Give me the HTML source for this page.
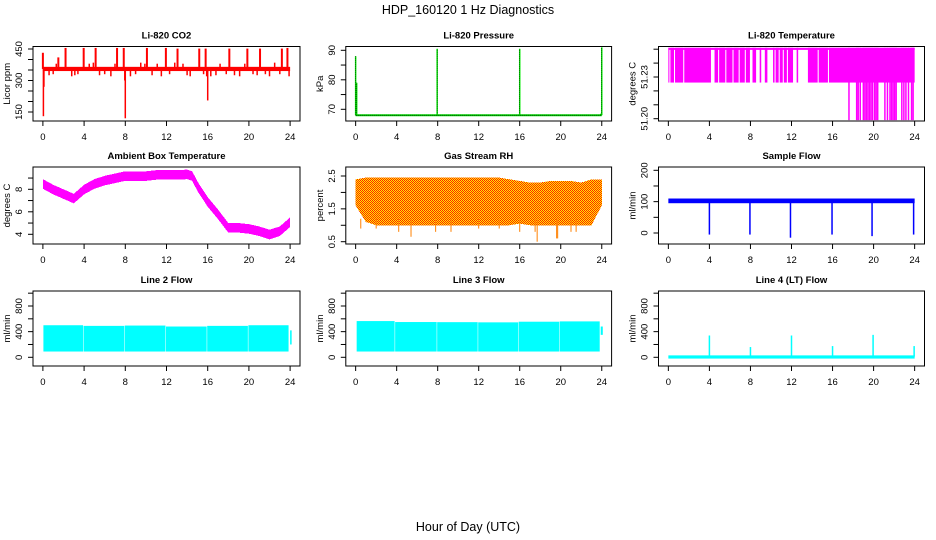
<!DOCTYPE html>
<html><head><meta charset="utf-8"><style>
body{margin:0;background:#fff}
svg{display:block;font-family:"Liberation Sans",Arial,sans-serif}
.t{font-size:9.5px;font-weight:bold}
.tl{font-size:9.5px}
</style></head><body>
<svg id="c" width="936" height="540" viewBox="0 0 936 540">
<defs><pattern id="rhp" width="2" height="2" patternUnits="userSpaceOnUse" shape-rendering="crispEdges"><rect width="2" height="2" fill="#ffee00"/><rect width="1" height="1" fill="#ff2000"/><rect x="1" y="1" width="1" height="1" fill="#ff2000"/></pattern></defs>
<text x="468" y="14" text-anchor="middle" font-size="12.5">HDP_160120  1 Hz Diagnostics</text>
<text x="468" y="531" text-anchor="middle" font-size="12.5">Hour of Day (UTC)</text>
</svg>
<script>
const xTicks=[0,4,8,12,16,20,24];
// CO2
const co2Base=[345,365];
const co2SpikeH=[0.0,1.5,2.2,3.96,5.12,7.2,7.85,10.1,11.94,13.07,15.18,15.8,18.1,19.85,21.08,23.2,23.74];
const co2SpikeV=[432,410,455,455,455,455,455,455,455,452,452,452,452,452,452,452,455];
const co2DownH=[0.05,0.1,7.95,8.0,16.0,15.9,23.9];
const co2DownV=[130,270,300,120,205,320,320];
const co2SmallH=[0.6,1.0,1.3,2.8,3.1,3.4,4.5,4.9,5.5,6.0,6.6,7.0,8.5,9.0,9.5,9.9,10.6,11.1,11.5,12.3,12.8,13.6,14.0,14.3,15.6,16.3,16.8,17.2,17.8,18.6,19.1,19.6,20.4,20.8,21.6,22.0,22.5,23.0];
const co2SmallV=[325,330,380,320,325,330,380,385,325,330,320,380,320,330,385,380,325,380,320,330,385,380,325,320,330,320,325,380,330,325,320,380,330,325,330,320,385,330];
// Pressure
const presBase=68;
const presSpikeH=[0.0,0.1,7.95,16.0,23.9,24.0];
const presSpikeV=[88,79,90.5,90.5,68.5,91];
// Li-820 temperature
const ltTop=51.251,ltMid=51.226,ltBot=51.199;
const ltFill=[[0,0.1],[0.2,0.55],[0.65,1.45],[1.55,4.15],[4.5,4.85],[4.95,5.55],[5.65,6.25],[6.35,6.85],[6.95,7.45],[7.55,7.95],[8.2,8.55],[8.9,9.05],[9.4,9.65],[10.2,10.35],[10.45,10.75],[10.85,11.15],[11.25,11.55],[11.65,12.15],[12.5,12.65],[13.6,14.55],[14.65,15.55],[15.65,24]];
const ltDrops=[17.6,18.35,18.5,18.7,19.0,19.15,19.3,19.45,19.6,19.75,19.9,20.1,20.25,20.4,21.1,21.35,21.6,21.75,21.9,22.05,22.2,22.75,22.95,23.15,23.4,23.7,23.85];
// Ambient
const ambH=[0,1,2,3,4,5,6,7,8,9,10,11,12,13,14,14.5,15,16,17,18,19,20,21,22,23,24];
const ambV=[8.5,8.0,7.6,7.2,8.0,8.5,8.8,9.0,9.2,9.2,9.2,9.3,9.3,9.3,9.35,9.2,8.3,6.9,5.8,4.6,4.6,4.5,4.3,4.0,4.3,5.1];
// RH
const rhH=[0,1,2,3,4,5,6,7,8,9,10,11,12,13,14,15,16,17,18,19,20,21,22,23,24];
const rhUp=[2.4,2.45,2.45,2.45,2.45,2.45,2.45,2.45,2.45,2.45,2.45,2.45,2.45,2.45,2.45,2.4,2.35,2.3,2.3,2.35,2.35,2.35,2.3,2.4,2.4];
const rhLo=[1.6,1.1,1.0,1.0,1.0,1.0,1.0,1.0,1.0,1.0,1.0,1.0,1.0,1.0,1.0,1.0,1.05,1.0,1.0,1.0,1.0,1.0,1.0,1.0,1.6];
const rhDipH=[0.5,2.0,4.2,5.4,7.8,9.3,12.0,14.0,16.0,17.5,17.7,19.6,19.7,21.0,21.5];
const rhDipV=[0.9,0.9,0.8,0.65,0.8,0.8,0.9,0.9,0.8,0.8,0.5,0.6,0.6,0.8,0.8];
// Sample flow
const sfBand=[95,110];
const sfDropH=[4.0,7.95,11.9,15.95,19.85,23.9];
const sfDropV=[-5,-5,-15,-5,-10,-5];
// Line 2 / 3
const l2Segs=[[0.05,3.9,500],[3.95,7.9,490],[7.95,11.9,495],[11.95,15.9,480],[15.95,19.9,490],[19.95,23.85,500]];
const l2Low=90;
const l3Segs=[[0.1,3.8,565],[3.85,7.9,550],[7.95,11.9,548],[11.95,15.85,545],[15.9,19.85,555],[19.9,23.8,560]];
const l3Low=90;
// Line 4
const l4Base=10;
const l4SpikeH=[4.0,8.0,12.0,16.0,19.95,23.95];
const l4SpikeV=[340,160,340,175,350,175];

const svg=document.getElementById('c');const NS='http://www.w3.org/2000/svg';
function mk(t,a,p){const e=document.createElementNS(NS,t);for(const k in a)e.setAttribute(k,a[k]);(p||svg).appendChild(e);return e;}
const cols=[[33,300],[345.8,611.6],[658.5,924.5]];
const rows=[[46.5,121],[167,244],[291,366]];
function panel(ci,ri,title,ylab,v1,p1,v2,p2,ticks,labels,name){
 const [x0,x1]=cols[ci],[y0,y1]=rows[ri];
 const xs=h=>x0+(h+0.96)/25.92*(x1-x0);
 const ys=v=>p1+(v-v1)*(p2-p1)/(v2-v1);
 const g=mk('g',{});
 
 
 const tt=mk('text',{x:(x0+x1)/2,y:y0-8,'text-anchor':'middle',class:'t'},g);tt.textContent=title;
 
 
 const data=mk('g',{},g);
 const box=mk('rect',{x:x0,y:y0,width:x1-x0,height:y1-y0,fill:'none',stroke:'#000','stroke-width':1},g);
 
 
 xTicks.forEach(h=>{const X=xs(h);mk('line',{x1:X,x2:X,y1:y1,y2:y1+5,stroke:'#000'},g);
  const t=mk('text',{x:X,y:y1+19,'text-anchor':'middle',class:'tl'},g);t.textContent=h;
  
  });
 ticks.forEach(v=>{const Y=ys(v);mk('line',{x1:x0-5,x2:x0,y1:Y,y2:Y,stroke:'#000'},g);});
 labels.forEach(v=>{const Y=ys(v);const t=mk('text',{x:0,y:0,'text-anchor':'middle',class:'tl',transform:`translate(${x0-11},${Y}) rotate(-90)`},g);t.textContent=(typeof v==='number'&&ylab==='degrees C'&&ci===2)?v.toFixed(2):v;
  
  });
 const yl=mk('text',{x:0,y:0,'text-anchor':'middle',class:'tl',transform:`translate(${x0-23},${(y0+y1)/2}) rotate(-90)`},g);yl.textContent=ylab;
 
 
 return {xs,ys,g:data};
}
function vl(P,h,a,b,col,w,name){const l=mk('line',{x1:P.xs(h),x2:P.xs(h),y1:P.ys(a),y2:P.ys(b),stroke:col,'stroke-width':w||1},P.g);
 
 return l;}
function rc(P,h0,h1,a,b,fill,name){const r=mk('rect',{x:P.xs(h0),width:P.xs(h1)-P.xs(h0),y:P.ys(b),height:P.ys(a)-P.ys(b),fill:fill},P.g);
 
 return r;}
function band(P,H,U,L,fill,name){let d='';H.forEach((h,i)=>d+=(i?'L':'M')+P.xs(h)+','+P.ys(U[i]));for(let i=H.length-1;i>=0;i--)d+='L'+P.xs(H[i])+','+P.ys(L[i]);
 const p=mk('path',{d:d+'Z',fill:fill,'shape-rendering':'crispEdges'},P.g);
 
 return p;}

// CO2
let P=panel(0,0,'Li-820 CO2','Licor ppm',450,49,150,112,[150,200,250,300,350,400,450],[150,300,450],'co2');
rc(P,0,24,co2Base[0],co2Base[1],'#ff0000','co2-band');
co2SmallH.forEach((h,i)=>vl(P,h,355,co2SmallV[i],'#ff0000',1.5,'co2-small-spike'));
co2SpikeH.forEach((h,i)=>vl(P,h,355,co2SpikeV[i],'#ff0000',2,'co2-spike'));
co2DownH.forEach((h,i)=>vl(P,h,355,co2DownV[i],'#ff0000',1.5,'co2-dip'));
// Pressure
P=panel(1,0,'Li-820 Pressure','kPa',90,50.3,70,109.3,[70,75,80,85,90],[70,80,90],'pressure');
presSpikeH.forEach((h,i)=>{vl(P,h,presBase,presSpikeV[i],'#00ee00',1.5,'pressure-spike');vl(P,h,presBase,presSpikeV[i],'#000',0.6,'pressure-spike-dots').setAttribute('stroke-dasharray','1,1');});
{const l=mk('line',{x1:P.xs(0),x2:P.xs(24),y1:P.ys(presBase),y2:P.ys(presBase),stroke:'#00ee00','stroke-width':2},P.g);


const l2=mk('line',{x1:P.xs(0),x2:P.xs(24),y1:P.ys(presBase),y2:P.ys(presBase),stroke:'#000','stroke-width':1,'stroke-dasharray':'1,1'},P.g);

}
// Li temp
P=panel(2,0,'Li-820 Temperature','degrees C',51.23,77,51.20,118.7,[51.20,51.21,51.22,51.23,51.24,51.25],[51.20,51.23],'li820-temp');
ltFill.forEach(s=>rc(P,s[0],s[1],ltMid,ltTop,'#ff00ff','li820-temp-fill'));
rc(P,0,24,ltTop-0.0015,ltTop,'#ff00ff','li820-temp-top');
ltDrops.forEach(h=>vl(P,h,ltTop,ltBot,'#ff00ff',1.5,'li820-temp-drop'));
// Ambient
P=panel(0,1,'Ambient Box Temperature','degrees C',8,189.3,4,234.3,[4,5,6,7,8,9],[4,6,8],'ambient');
band(P,ambH,ambV.map(v=>v+0.4),ambV.map(v=>v-0.45),'#ff00ff','ambient-band');
// RH
P=panel(1,1,'Gas Stream RH','percent',2.5,176,0.5,241.7,[0.5,1,1.5,2,2.5],[0.5,1.5,2.5],'rh');
band(P,rhH,rhUp,rhLo,'url(#rhp)','rh-band');
rhDipH.forEach((h,i)=>vl(P,h,1.2,rhDipV[i],'#ff8000',1,'rh-dip'));
// Sample flow
P=panel(2,1,'Sample Flow','ml/min',200,170.3,0,233,[0,50,100,150,200],[0,100,200],'sample-flow');
rc(P,0,24,sfBand[0],sfBand[1],'#0000ff','sample-flow-band');
sfDropH.forEach((h,i)=>vl(P,h,100,sfDropV[i],'#0000ff',1.5,'sample-flow-drop'));
// Line 2
P=panel(0,2,'Line 2 Flow','ml/min',800,306,0,357.3,[0,200,400,600,800,1000],[0,400,800],'line2');
l2Segs.forEach(s=>rc(P,s[0],s[1],l2Low,s[2],'#00ffff','line2-band'));
rc(P,24.0,24.15,200,420,'#00ffff','line2-end');
// Line 3
P=panel(1,2,'Line 3 Flow','ml/min',800,306,0,357.3,[0,200,400,600,800,1000],[0,400,800],'line3');
l3Segs.forEach(s=>rc(P,s[0],s[1],l3Low,s[2],'#00ffff','line3-band'));
rc(P,23.9,24.1,350,480,'#00ffff','line3-end');
// Line 4
P=panel(2,2,'Line 4 (LT) Flow','ml/min',800,306,0,357.3,[0,200,400,600,800,1000],[0,400,800],'line4');
rc(P,0,24,-20,l4Base*3,'#00ffff','line4-base');
l4SpikeH.forEach((h,i)=>vl(P,h,l4Base,l4SpikeV[i],'#00ffff',1.5,'line4-spike'));
</script>
</body></html>
